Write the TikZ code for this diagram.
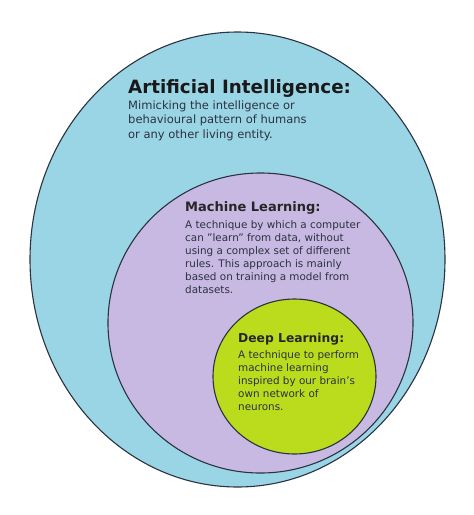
\documentclass[tikz,border=0pt]{standalone}
\usepackage{fontspec}
\setmainfont{DejaVu Sans}
\usetikzlibrary{shapes.geometric}
\definecolor{aiblue}{HTML}{9AD5E6}
\definecolor{mlpurple}{HTML}{C8B9E2}
\definecolor{dlgreen}{HTML}{BADC1C}
\definecolor{edge}{HTML}{2B3240}
\begin{document}
\begin{tikzpicture}
[x=1pt, y=-1pt]
\tikzstyle{field}=[ellipse, draw=edge, line width=1.1pt, inner sep=0pt]
\tikzstyle{head}=[anchor=base west, inner sep=0pt, font=\bfseries]
\tikzstyle{body}=[anchor=base west, inner sep=0pt, align=left]
\useasboundingbox[fill=white] (0,0) rectangle (474,515);

\node[field, fill=aiblue, minimum width=415, minimum height=455] (AI) at (237.5,259.5) {};
\node[field, fill=mlpurple, minimum width=305, minimum height=300] (ML) at (260.5,323) {};
\node[field, fill=dlgreen, minimum width=163, minimum height=155] (DL) at (294.5,376.5) {};

% the body nodes sit on the baseline of their last line
\node[head, font=\fontsize{18.3}{21}\selectfont\bfseries, text=black!90] (AIhead) at (128,93) {Artificial Intelligence:};
\node[body, font=\fontsize{11.5}{14.5}\selectfont, text=edge] (AItext) at (128,138)
  {Mimicking the intelligence or\\behavioural pattern of humans\\or any other living entity.};

\node[head, font=\fontsize{13}{15}\selectfont\bfseries, text=black!85] (MLhead) at (185,211) {Machine Learning:};
\node[body, font=\fontsize{10.4}{13}\selectfont, text=edge] (MLtext) at (185,293)
  {A technique by which a computer\\can \symbol{34}learn\symbol{34} from data, without\\using a complex set of different\\rules. This approach is mainly\\based on training a model from\\datasets.};

\node[head, font=\fontsize{12.3}{15}\selectfont\bfseries, text=black!85] (DLhead) at (238,342) {Deep Learning:};
\node[body, font=\fontsize{10.4}{13}\selectfont, text=edge] (DLtext) at (238,410)
  {A technique to perform\\machine learning\\inspired by our brain\symbol{39}s\\own network of\\neurons.};
\end{tikzpicture}
\end{document}
